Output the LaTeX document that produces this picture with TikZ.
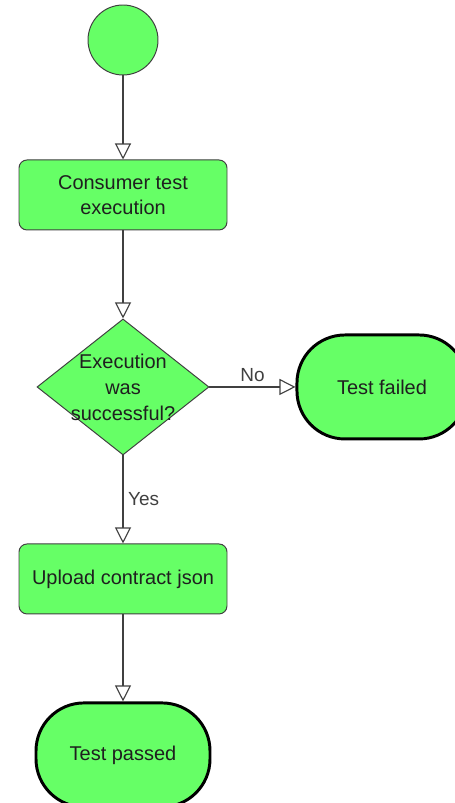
\documentclass[tikz,border=0pt]{standalone}
\usepackage{fontspec}
\setmainfont{Liberation Sans}
\usepackage{tikz}
\usetikzlibrary{positioning, shapes.geometric, arrows.meta}

\definecolor{actgreen}{RGB}{102,255,102}
\definecolor{linegray}{RGB}{64,64,64}

\begin{document}
\begin{tikzpicture}[
    >={Triangle[open, length=0.4cm, width=0.4cm]},
    every edge/.style={draw=linegray, line width=0.8pt},
    startpt/.style={circle, draw=linegray, fill=actgreen, line width=0.7pt, minimum size=1.75cm, inner sep=0pt},
    action/.style={draw=linegray, fill=actgreen, line width=0.7pt, rounded corners=0.2cm, align=center, minimum width=5.2cm, minimum height=1.75cm, font=\fontsize{14.2}{17.5}\selectfont, text=black!88},
    decision/.style={diamond, draw=linegray, fill=actgreen, line width=0.7pt, align=center, inner sep=-0.25cm, minimum width=4.3cm, minimum height=3.4cm, font=\fontsize{14.2}{18.5}\selectfont, text=black!88},
    terminal/.style={draw=black, fill=actgreen, line width=2.1pt, rounded corners=1.2cm, align=center, minimum height=2.6cm, font=\fontsize{14.2}{17.5}\selectfont, text=black!88},
    flowlabel/.style={midway, font=\fontsize{13.5}{16}\selectfont, text=linegray}]

    \useasboundingbox (0,0) rectangle (11.35,-20.075);

    \node at (3.075,-1.0)[startpt] (start) {};
    \node [action, below=2.1cm of start] (exec) {Consumer test \\ execution};
    \node [decision, below=2.2cm of exec] (check) {Execution \\ was \\ successful?};
    \node [terminal, minimum width=4.25cm, right=2.15cm of check] (failed) {Test failed};
    \node [action, below=2.2cm of check] (upload) {Upload contract json};
    \node [terminal, minimum width=4.35cm, below=2.175cm of upload] (passed) {Test passed};

    %%% Flow between activities
    \path (start) edge [->] (exec);
    \path (exec) edge [->] (check);
    \path (check) edge [->] node[flowlabel, above] {No} (failed);
    \path (check) edge [->] node[flowlabel, right] {Yes} (upload);
    \path (upload) edge [->] (passed);

\end{tikzpicture}
\end{document}
